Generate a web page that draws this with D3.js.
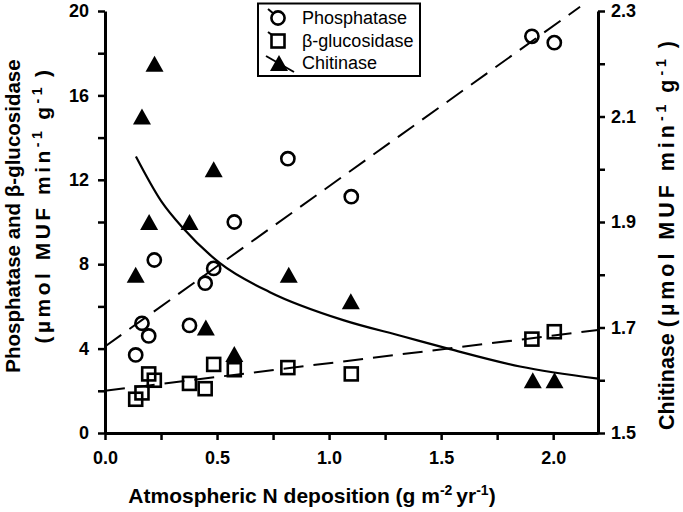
<!DOCTYPE html>
<html><head><meta charset="utf-8">
<script src="https://cdn.jsdelivr.net/npm/d3@7"></script>
<style>
html,body{margin:0;padding:0;background:#fff;}
svg{display:block;}
text{font-family:"Liberation Sans",Arial,sans-serif;fill:#000;}
</style></head>
<body>
<svg id="chart" width="683" height="512"></svg>
<script>
// ---- data ----
const siteN = [0.137, 0.165, 0.195, 0.22, 0.377, 0.447, 0.485, 0.577, 0.816, 1.099, 1.905, 2.005];
const phosphatase = [3.7, 5.2, 4.6, 8.2, 5.1, 7.1, 7.8, 10.0, 13.0, 11.2, 18.8, 18.5];
const glucosidase = [1.6, 1.9, 2.8, 2.5, 2.35, 2.1, 3.25, 3.0, 3.1, 2.8, 4.45, 4.8];
const chitN = [0.137, 0.165, 0.197, 0.221, 0.377, 0.45, 0.485, 0.577, 0.82, 1.097, 1.909, 2.006];
const chitinase = [1.80, 2.10, 1.90, 2.20, 1.90, 1.70, 2.00, 1.65, 1.80, 1.75, 1.60, 1.60];
// fitted trend lines
const phosFitX = [0, 2.12], phosFitY = [4.1, 20.2];
const glucFitX = [0, 2.2], glucFitY = [2.0, 4.88];
const chitFitX = [0.138, 0.25, 0.349, 0.513, 0.736, 1.063, 1.331, 1.539, 1.852, 2.2];
const chitFitY = [2.024, 1.94, 1.888, 1.822, 1.767, 1.714, 1.683, 1.659, 1.626, 1.603];
const xTicks = [0, 0.25, 0.5, 0.75, 1.0, 1.25, 1.5, 1.75, 2.0];
const yLeftTicks = [0, 2, 4, 6, 8, 10, 12, 14, 16, 18, 20];
const yRightTicks = [1.5, 1.6, 1.7, 1.8, 1.9, 2.0, 2.1, 2.2, 2.3];
const legendNames = ["Phosphatase", "β-glucosidase", "Chitinase"];

// ---- scales ----
const svg = d3.select("#chart");
svg.append("rect").attr("width",683).attr("height",512).attr("fill","#fff");
const x = d3.scaleLinear().domain([0, 2.2]).range([105, 598]);
const yL = d3.scaleLinear().domain([0, 20]).range([433, 11]);
const yR = d3.scaleLinear().domain([1.5, 2.3]).range([433, 11]);

function styleAxis(g){
  g.selectAll("path.domain").attr("stroke","#000").attr("stroke-width",3);
  g.selectAll(".tick line").attr("stroke","#000").attr("stroke-width",2.5);
  g.selectAll(".tick text").attr("font-size",18).attr("font-weight","bold")
    .attr("font-family","'Liberation Sans',Arial,sans-serif");
}

const gx = svg.append("g").attr("transform","translate(0,433)")
  .call(d3.axisBottom(x).tickValues(xTicks).tickSizeInner(7).tickSizeOuter(0).tickPadding(11)
  .tickFormat(d => (Math.round(d*100) % 50 === 0) ? d.toFixed(1) : ""));
styleAxis(gx);
const gl = svg.append("g").attr("transform","translate(105,0)")
  .call(d3.axisLeft(yL).tickValues(yLeftTicks).tickSizeInner(7).tickSizeOuter(0).tickPadding(9)
  .tickFormat(d => d % 4 === 0 ? d : ""));
styleAxis(gl);
const gr = svg.append("g").attr("transform","translate(598,0)")
  .call(d3.axisRight(yR).tickValues(yRightTicks).tickSizeInner(7).tickSizeOuter(0).tickPadding(6)
  .tickFormat(d => (Math.round(d*10) % 2 === 1) ? d.toFixed(1) : ""));
styleAxis(gr);

// ---- fit lines ----
const lineL = d3.line().x(d => x(d[0])).y(d => yL(d[1]));
const lineR = d3.line().x(d => x(d[0])).y(d => yR(d[1])).curve(d3.curveMonotoneX);
svg.append("path").attr("d", lineL(phosFitX.map((v,i)=>[v, phosFitY[i]])))
  .attr("fill","none").attr("stroke","#000").attr("stroke-width",2).attr("stroke-dasharray","20,10");
svg.append("path").attr("d", lineL(glucFitX.map((v,i)=>[v, glucFitY[i]])))
  .attr("fill","none").attr("stroke","#000").attr("stroke-width",2).attr("stroke-dasharray","20,10");
svg.append("path").attr("d", lineR(chitFitX.map((v,i)=>[v, chitFitY[i]])))
  .attr("fill","none").attr("stroke","#000").attr("stroke-width",2.2);

// ---- markers ----
const triPath = "M0,-8L9,8L-9,8Z";
svg.append("g").selectAll("circle").data(siteN.map((v,i)=>[v, phosphatase[i]])).join("circle")
  .attr("cx", d => x(d[0])).attr("cy", d => yL(d[1])).attr("r", 6.6)
  .attr("fill","none").attr("stroke","#000").attr("stroke-width",2.6);
svg.append("g").selectAll("rect").data(siteN.map((v,i)=>[v, glucosidase[i]])).join("rect")
  .attr("x", d => x(d[0]) - 6.5).attr("y", d => yL(d[1]) - 6.5).attr("width",13).attr("height",13)
  .attr("fill","none").attr("stroke","#000").attr("stroke-width",2.6);
svg.append("g").selectAll("path").data(chitN.map((v,i)=>[v, chitinase[i]])).join("path")
  .attr("transform", d => `translate(${x(d[0])},${yR(d[1])})`).attr("d", triPath).attr("fill","#000");

// ---- legend ----
const lg = svg.append("g");
lg.append("rect").attr("x",258).attr("y",3.5).attr("width",162).attr("height",72.5)
  .attr("fill","#fff").attr("stroke","#000").attr("stroke-width",2);
const ly = [18, 41, 63];
lg.append("line").attr("x1",268).attr("y1",9).attr("x2",274).attr("y2",14).attr("stroke","#000").attr("stroke-width",2);
lg.append("circle").attr("cx",278).attr("cy",ly[0]).attr("r",6.6).attr("fill","none").attr("stroke","#000").attr("stroke-width",2.6);
lg.append("line").attr("x1",268).attr("y1",32).attr("x2",272).attr("y2",35).attr("stroke","#000").attr("stroke-width",2);
lg.append("rect").attr("x",271.5).attr("y",ly[1]-6.5).attr("width",13).attr("height",13).attr("fill","none").attr("stroke","#000").attr("stroke-width",2.6);
lg.append("line").attr("x1",266).attr("y1",56).attr("x2",294).attr("y2",72).attr("stroke","#000").attr("stroke-width",2);
lg.append("path").attr("transform",`translate(279,${ly[2]})`).attr("d",triPath).attr("fill","#000");
legendNames.forEach((n,i) => {
  lg.append("text").attr("x",302).attr("y",ly[i]).attr("dy","0.36em").attr("font-size",18).text(n);
});

// ---- axis titles ----
function supTitle(sel, parts, big, small){
  return parts.map(p => {
    if (p.sup) return sel.append("tspan").attr("font-size",small).attr("dy",-8).attr("dx",p.dx||0).text(p.t);
    return sel.append("tspan").attr("font-size",big).attr("dy",p.after?8:0).attr("dx",p.dx||0).text(p.t);
  });
}
// spread a group of tspans so the whole text reaches a target length
function stretch(textSel, spans, target){
  const natural = textSel.node().getComputedTextLength();
  const n = spans.reduce((s,t) => s + t.text().length, 0);
  const ls = Math.max(0, (target - natural) / n);
  spans.forEach(t => t.style("letter-spacing", ls + "px"));
}
const xt = svg.append("text").attr("x",312).attr("y",503).attr("text-anchor","middle")
  .attr("font-weight","bold");
supTitle(xt, [{t:"Atmospheric N deposition (g m"},{t:"-2",sup:true},{t:"yr",after:true,dx:4},{t:"-1",sup:true},{t:")",after:true}], 21, 14);

svg.append("text").attr("transform","translate(20,216) rotate(-90)")
  .attr("text-anchor","middle").attr("font-size",20.5).attr("font-weight","bold")
  .text("Phosphatase and β-glucosidase");
const lt2 = svg.append("text").attr("transform","translate(50,205) rotate(-90)")
  .attr("text-anchor","middle").attr("font-weight","bold");
const lt2s = supTitle(lt2, [{t:"(µmol MUF min"},{t:"-1",sup:true},{t:"g",after:true,dx:8},{t:"-1",sup:true},{t:")",after:true,dx:7}], 21, 14);
stretch(lt2, lt2s, 262);

const rt = svg.append("text").attr("transform","translate(674,430) rotate(-90)")
  .attr("text-anchor","start").attr("font-weight","bold");
const rts = supTitle(rt, [{t:"Chitinase "},{t:"(µmol MUF min"},{t:"-1",sup:true},{t:"g",after:true,dx:8},{t:"-1",sup:true},{t:")",after:true,dx:7}], 21.5, 14);
stretch(rt, rts.slice(1), 378);
</script>
</body></html>
